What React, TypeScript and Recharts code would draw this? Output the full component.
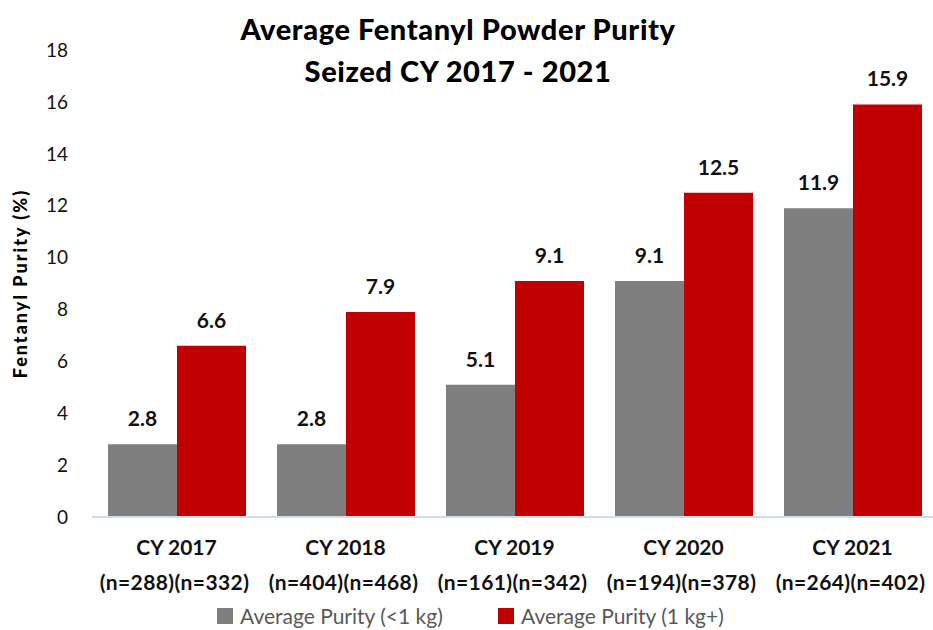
import React from 'react';
import { BarChart, Bar, XAxis, YAxis, Legend, LabelList } from 'recharts';

const years = ['CY 2017', 'CY 2018', 'CY 2019', 'CY 2020', 'CY 2021'];
const sampleCounts = [
  '(n=288)(n=332)',
  '(n=404)(n=468)',
  '(n=161)(n=342)',
  '(n=194)(n=378)',
  '(n=264)(n=402)',
];
const purityUnder1kg = [2.8, 2.8, 5.1, 9.1, 11.9];
const purityOver1kg = [6.6, 7.9, 9.1, 12.5, 15.9];
const yTicks = [0, 2, 4, 6, 8, 10, 12, 14, 16, 18];

const data = years.map((year, i) => ({
  year,
  counts: sampleCounts[i],
  small: purityUnder1kg[i],
  large: purityOver1kg[i],
}));

const FONT = 'Lato, "Open Sans", sans-serif';
const GRAY = '#7f7f7f';
const RED = '#c00000';

function YearTick({ x, y, payload, index }: any) {
  return (
    <g>
      <text x={x} y={y} dy={38} textAnchor="middle" fontFamily={FONT} fontWeight={700} fontSize={21} fill="#111">
        {payload.value}
      </text>
      <text x={x - 2} y={y} dy={73} textAnchor="middle" fontFamily={FONT} fontWeight={700} fontSize={21} letterSpacing={0.4} fill="#111">
        {sampleCounts[index]}
      </text>
    </g>
  );
}

function LegendContent({ payload }: any) {
  return (
    <div style={{ position: 'relative', width: 933, height: 26 }}>
      {(payload || []).map((item: any) => (
        <div
          key={item.value}
          style={{
            position: 'absolute',
            left: item.dataKey === 'small' ? 217 : 498,
            top: 0,
            display: 'flex',
            alignItems: 'center',
            fontFamily: FONT,
            fontSize: 21,
            lineHeight: '24px',
            color: '#595959',
            whiteSpace: 'nowrap',
          }}
        >
          <span style={{ display: 'inline-block', width: 16, height: 16, background: item.color, marginRight: 7 }} />
          {item.value}
        </div>
      ))}
    </div>
  );
}

export default function App() {
  return (
    <div style={{ position: 'absolute', left: 0, top: 0, width: 933, height: 630, overflow: 'hidden', background: '#fff' }}>
      <div
        style={{
          position: 'absolute',
          left: 0,
          top: 8,
          width: 916,
          textAlign: 'center',
          fontFamily: FONT,
          fontWeight: 900,
          fontSize: 29,
          letterSpacing: 0.6,
          lineHeight: '42px',
          color: '#000',
        }}
      >
        Average Fentanyl Powder Purity
        <br />
        Seized CY 2017 - 2021
      </div>
      <BarChart width={945} height={640} data={data} margin={{ top: 50, right: 8, bottom: 53, left: 0 }} barSize={69} barGap={0}>
        <XAxis
          dataKey="year"
          height={70}
          tickSize={0}
          tickMargin={0}
          tickLine={false}
          axisLine={{ stroke: '#cfdcf0', strokeWidth: 2 }}
          tick={<YearTick />}
          interval={0}
        />
        <YAxis
          width={92}
          domain={[0, 18]}
          ticks={yTicks}
          axisLine={false}
          tickLine={false}
          tickSize={0}
          tickMargin={24}
          tick={{ fontFamily: FONT, fontSize: 19, fill: '#111' }}
          label={{
            value: 'Fentanyl Purity (%)',
            angle: -90,
            position: 'insideLeft',
            offset: 21,
            style: { textAnchor: 'middle', fontFamily: FONT, fontWeight: 900, fontSize: 18, letterSpacing: 2, fill: '#000' },
          }}
        />
        <Legend
          layout="horizontal"
          verticalAlign="middle"
          align="center"
          wrapperStyle={{ position: 'absolute', left: 0, top: 604, width: 933 }}
          content={<LegendContent />}
        />
        <Bar dataKey="small" name="Average Purity (<1 kg)" fill={GRAY} isAnimationActive={false}>
          <LabelList dataKey="small" position="top" offset={18} style={{ fontFamily: FONT, fontWeight: 700, fontSize: 21, fill: '#111' }} />
        </Bar>
        <Bar dataKey="large" name="Average Purity (1 kg+)" fill={RED} isAnimationActive={false}>
          <LabelList dataKey="large" position="top" offset={18} style={{ fontFamily: FONT, fontWeight: 700, fontSize: 21, fill: '#111' }} />
        </Bar>
      </BarChart>
    </div>
  );
}
